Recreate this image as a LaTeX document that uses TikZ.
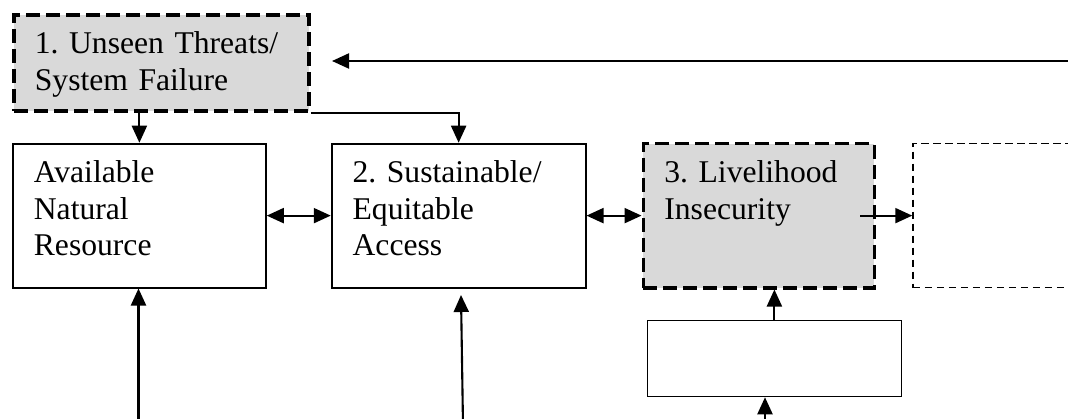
\documentclass[tikz,border=0pt]{standalone}
\usepackage{fontspec}
\setmainfont{Liberation Serif}
\usepackage{tikz}
\usetikzlibrary{positioning,arrows.meta}
\frenchspacing

\begin{document}
\begin{tikzpicture}[font=\fontsize{18}{20.7}\selectfont,
        box/.style = {draw, line width=1pt, align=left, inner xsep=0.42cm, inner ysep=0pt, text height=0.78cm},
        risk/.style = {box, fill=gray!30, line width=0.075cm, dash pattern=on 0.28cm off 0.12cm},
        open/.style = {draw, line width=0.7pt, dash pattern=on 0.15cm off 0.09cm, minimum height=2.88cm, minimum width=4cm},
        arr/.style = {-{Triangle[length=0.34cm, width=0.3cm]}, line width=1.2pt},
        dbl/.style = {{Triangle[length=0.34cm, width=0.3cm]}-{Triangle[length=0.34cm, width=0.3cm]}, line width=1.2pt}]
            \useasboundingbox (0,0) rectangle (21.36,-8.38);
            \node[risk, anchor=north west, text width=5.06cm, text depth=1.14cm] (threat) at (0.24,-0.26) {1. Unseen Threats/\\System Failure};
            \node[box, text width=4.22cm, text depth=2.10cm] (avail) [below=0.6cm of threat.south west, anchor=north west] {Available\\Natural\\Resource};
            \node[box, text width=4.24cm, text depth=2.10cm] (access) [right=1.28cm of avail] {2. Sustainable/\\Equitable\\Access};
            \node[risk, text width=3.78cm, text depth=2.10cm] (insec) [right=1.10cm of access] {3. Livelihood\\Insecurity};
            \node[open] (next) [right=0.72cm of insec, anchor=west] {};
            \node[draw, line width=1pt, minimum width=5.08cm, minimum height=1.52cm] (aux) [below=0.6cm of insec.south west, anchor=north west, xshift=0.1cm] {};

            \coordinate (feedA) at (21.5,-1.22);
            \coordinate (feedB) at (6.64,-1.22);
            \coordinate (inA) at (2.77,-8.5);
            \coordinate (inB) at (9.26,-8.5);
            \coordinate (tipB) at (9.22,-5.90);
            \coordinate (inC) at (15.30,-8.5);

            \draw[arr] (feedA) -- (feedB);
            \draw[arr] (threat.south -| avail.north) -- (avail.north);
            \draw[arr] (threat.south east) -| (access.north);
            \draw[dbl] (avail.east) -- (access.west);
            \draw[dbl] (access.east) -- (insec.west);
            \draw[arr] ([xshift=-0.32cm]insec.east) -- (next.west);
            \draw[arr] (aux.north) -- (aux.north |- insec.south);
            \draw[arr] (inA) -- (inA |- avail.south);
            \draw[arr] (inB) -- (tipB);
            \draw[arr] (inC) -- (inC |- aux.south);
        \end{tikzpicture}
\end{document}
